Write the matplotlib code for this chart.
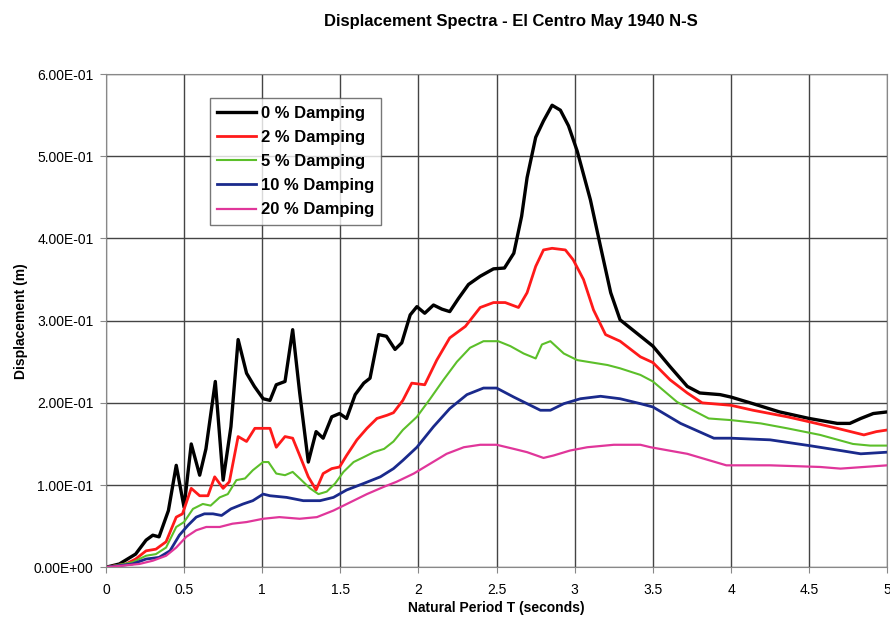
import numpy as np
import matplotlib
matplotlib.use("Agg")
import matplotlib.pyplot as plt
from matplotlib.ticker import FuncFormatter, MultipleLocator

plt.rcParams['font.family'] = ['Liberation Sans', 'DejaVu Sans']

# spectral displacement (m) vs natural period T (s), one curve per damping ratio
t_0 = [0, 0.086, 0.19, 0.257, 0.30, 0.34, 0.40, 0.45, 0.50, 0.546, 0.60, 0.64, 0.70, 0.75, 0.80,
       0.846, 0.90, 0.95, 1.006, 1.05, 1.09, 1.146, 1.195, 1.24, 1.295, 1.345, 1.39, 1.445, 1.495,
       1.54, 1.595, 1.65, 1.69, 1.745, 1.795, 1.85, 1.893, 1.947, 1.99, 2.04, 2.096, 2.15, 2.20,
       2.256, 2.32, 2.395, 2.48, 2.55, 2.61, 2.66, 2.695, 2.75, 2.80, 2.855, 2.908, 2.96, 3.016,
       3.10, 3.165, 3.23, 3.29, 3.5, 3.61, 3.72, 3.80, 3.93, 4.0, 4.14, 4.31, 4.5, 4.68, 4.76,
       4.83, 4.91, 5.0]
d_0 = [0, 0.004, 0.016, 0.033, 0.039, 0.037, 0.069, 0.124, 0.073, 0.150, 0.112, 0.144, 0.226,
       0.106, 0.171, 0.277, 0.236, 0.220, 0.205, 0.203, 0.222, 0.226, 0.289, 0.212, 0.128, 0.165,
       0.157, 0.183, 0.187, 0.181, 0.210, 0.224, 0.230, 0.283, 0.281, 0.265, 0.273, 0.307, 0.317,
       0.309, 0.319, 0.314, 0.311, 0.327, 0.344, 0.354, 0.363, 0.364, 0.382, 0.427, 0.474, 0.523,
       0.543, 0.562, 0.556, 0.537, 0.506, 0.447, 0.390, 0.334, 0.301, 0.269, 0.244, 0.220, 0.212,
       0.210, 0.207, 0.199, 0.189, 0.181, 0.175, 0.175, 0.181, 0.187, 0.189]

t_2 = [0, 0.128, 0.19, 0.257, 0.32, 0.385, 0.45, 0.49, 0.546, 0.60, 0.653, 0.696, 0.75, 0.79,
       0.846, 0.90, 0.953, 1.05, 1.09, 1.146, 1.195, 1.24, 1.295, 1.345, 1.39, 1.445, 1.495, 1.54,
       1.606, 1.67, 1.734, 1.80, 1.84, 1.90, 1.957, 2.04, 2.117, 2.20, 2.30, 2.395, 2.48, 2.555,
       2.64, 2.695, 2.75, 2.80, 2.855, 2.94, 2.99, 3.056, 3.12, 3.197, 3.29, 3.42, 3.5, 3.61, 3.72,
       3.815, 4.0, 4.14, 4.36, 4.5, 4.68, 4.85, 4.93, 5.0]
d_2 = [0, 0.004, 0.010, 0.020, 0.022, 0.031, 0.061, 0.065, 0.096, 0.087, 0.087, 0.110, 0.096,
       0.104, 0.159, 0.153, 0.169, 0.169, 0.146, 0.159, 0.157, 0.136, 0.110, 0.094, 0.114, 0.120,
       0.122, 0.136, 0.155, 0.169, 0.181, 0.185, 0.188, 0.203, 0.224, 0.222, 0.252, 0.279, 0.293,
       0.316, 0.322, 0.322, 0.316, 0.334, 0.366, 0.386, 0.388, 0.386, 0.374, 0.350, 0.313, 0.283,
       0.275, 0.256, 0.249, 0.228, 0.212, 0.200, 0.197, 0.191, 0.183, 0.177, 0.169, 0.161, 0.165,
       0.167]

t_5 = [0, 0.17, 0.257, 0.32, 0.385, 0.45, 0.50, 0.557, 0.62, 0.67, 0.728, 0.78, 0.835, 0.89,
       0.94, 1.006, 1.04, 1.09, 1.146, 1.195, 1.24, 1.306, 1.36, 1.413, 1.467, 1.52, 1.585, 1.65,
       1.713, 1.78, 1.84, 1.90, 1.99, 2.075, 2.16, 2.246, 2.33, 2.416, 2.51, 2.588, 2.673, 2.75,
       2.79, 2.844, 2.93, 3.016, 3.08, 3.21, 3.29, 3.42, 3.5, 3.655, 3.857, 4.0, 4.19, 4.36, 4.57,
       4.78, 4.89, 5.0]
d_5 = [0, 0.006, 0.014, 0.016, 0.024, 0.049, 0.055, 0.071, 0.077, 0.075, 0.085, 0.089, 0.106,
       0.108, 0.118, 0.128, 0.128, 0.114, 0.112, 0.116, 0.108, 0.096, 0.089, 0.092, 0.102, 0.116,
       0.128, 0.134, 0.140, 0.144, 0.153, 0.167, 0.183, 0.205, 0.228, 0.250, 0.267, 0.275, 0.275,
       0.269, 0.260, 0.254, 0.271, 0.275, 0.260, 0.252, 0.250, 0.246, 0.242, 0.234, 0.226, 0.201,
       0.181, 0.179, 0.175, 0.169, 0.161, 0.150, 0.148, 0.148]

t_10 = [0, 0.17, 0.257, 0.34, 0.41, 0.47, 0.525, 0.578, 0.63, 0.685, 0.74, 0.80, 0.878, 0.94,
        1.006, 1.05, 1.156, 1.263, 1.37, 1.456, 1.54, 1.65, 1.756, 1.84, 1.90, 1.99, 2.096, 2.20,
        2.31, 2.416, 2.50, 2.61, 2.695, 2.78, 2.844, 2.93, 3.036, 3.165, 3.29, 3.42, 3.5, 3.677,
        3.89, 4.0, 4.25, 4.5, 4.70, 4.83, 5.0]
d_10 = [0, 0.004, 0.010, 0.012, 0.020, 0.039, 0.051, 0.061, 0.065, 0.065, 0.063, 0.071, 0.077,
        0.081, 0.089, 0.087, 0.085, 0.081, 0.081, 0.085, 0.094, 0.102, 0.110, 0.120, 0.130, 0.146,
        0.171, 0.193, 0.210, 0.218, 0.218, 0.207, 0.199, 0.191, 0.191, 0.199, 0.205, 0.208, 0.205,
        0.199, 0.195, 0.175, 0.157, 0.157, 0.155, 0.148, 0.142, 0.138, 0.140]

t_20 = [0, 0.214, 0.30, 0.385, 0.45, 0.514, 0.578, 0.642, 0.728, 0.81, 0.90, 1.006, 1.11, 1.24,
        1.35, 1.456, 1.563, 1.67, 1.78, 1.86, 1.97, 2.075, 2.18, 2.29, 2.395, 2.50, 2.61, 2.695,
        2.80, 2.865, 2.97, 3.08, 3.25, 3.42, 3.485, 3.72, 3.97, 4.25, 4.57, 4.70, 5.0]
d_20 = [0, 0.004, 0.008, 0.014, 0.024, 0.037, 0.045, 0.049, 0.049, 0.053, 0.055, 0.059, 0.061,
        0.059, 0.061, 0.069, 0.079, 0.089, 0.098, 0.104, 0.114, 0.126, 0.138, 0.146, 0.149, 0.149,
        0.144, 0.140, 0.133, 0.136, 0.142, 0.146, 0.149, 0.149, 0.146, 0.138, 0.124, 0.124, 0.122,
        0.120, 0.124]

series = [
    (t_0, d_0, '0 % Damping', '#000000', 2.4),
    (t_2, d_2, '2 % Damping', '#ff1a1a', 2.0),
    (t_5, d_5, '5 % Damping', '#5cbf2a', 1.5),
    (t_10, d_10, '10 % Damping', '#1a2a8c', 2.0),
    (t_20, d_20, '20 % Damping', '#e0369a', 1.6),
]

fig = plt.figure(figsize=(8.9, 6.22), dpi=100)
ax = fig.add_axes([0.119, 0.088, 0.878, 0.793])

for t, d, lab, col, lw in series:
    ax.plot(t, d, color=col, lw=lw, label=lab, solid_joinstyle='round')

ax.set_xlim(0, 5)
ax.set_ylim(0, 0.6)
ax.xaxis.set_major_locator(MultipleLocator(0.5))
ax.yaxis.set_major_locator(MultipleLocator(0.1))
ax.xaxis.set_major_formatter(FuncFormatter(lambda v, p: '%g' % v))
ax.yaxis.set_major_formatter(FuncFormatter(lambda v, p: '%.2E' % v))
ax.grid(True, color='#444444', lw=1.0)
ax.set_axisbelow(True)
for s in ax.spines.values():
    s.set_color('#888888')
ax.tick_params(axis='both', length=4, color='#888888', labelsize=10)
ax.tick_params(axis='x', pad=7)
ax.tick_params(axis='y', pad=5)

ax.set_xlabel('Natural Period T (seconds)', fontsize=10, fontweight='bold', labelpad=3)
ax.set_ylabel('Displacement (m)', fontsize=10, fontweight='bold', labelpad=4)
fig.text(0.574, 0.966, 'Displacement Spectra - El Centro May 1940 N-S',
         ha='center', va='center', fontsize=12, fontweight='bold')

leg = ax.legend(loc='upper left', bbox_to_anchor=(0.133, 0.951),
                prop={'weight': 'bold', 'size': 12}, frameon=True, fancybox=False,
                handlelength=2.3, handletextpad=0.3, labelspacing=0.55, borderpad=0.45,
                borderaxespad=0)
leg.get_frame().set_edgecolor('#555555')
leg.get_frame().set_linewidth(1.0)

fig.savefig('out.png', dpi=100)
